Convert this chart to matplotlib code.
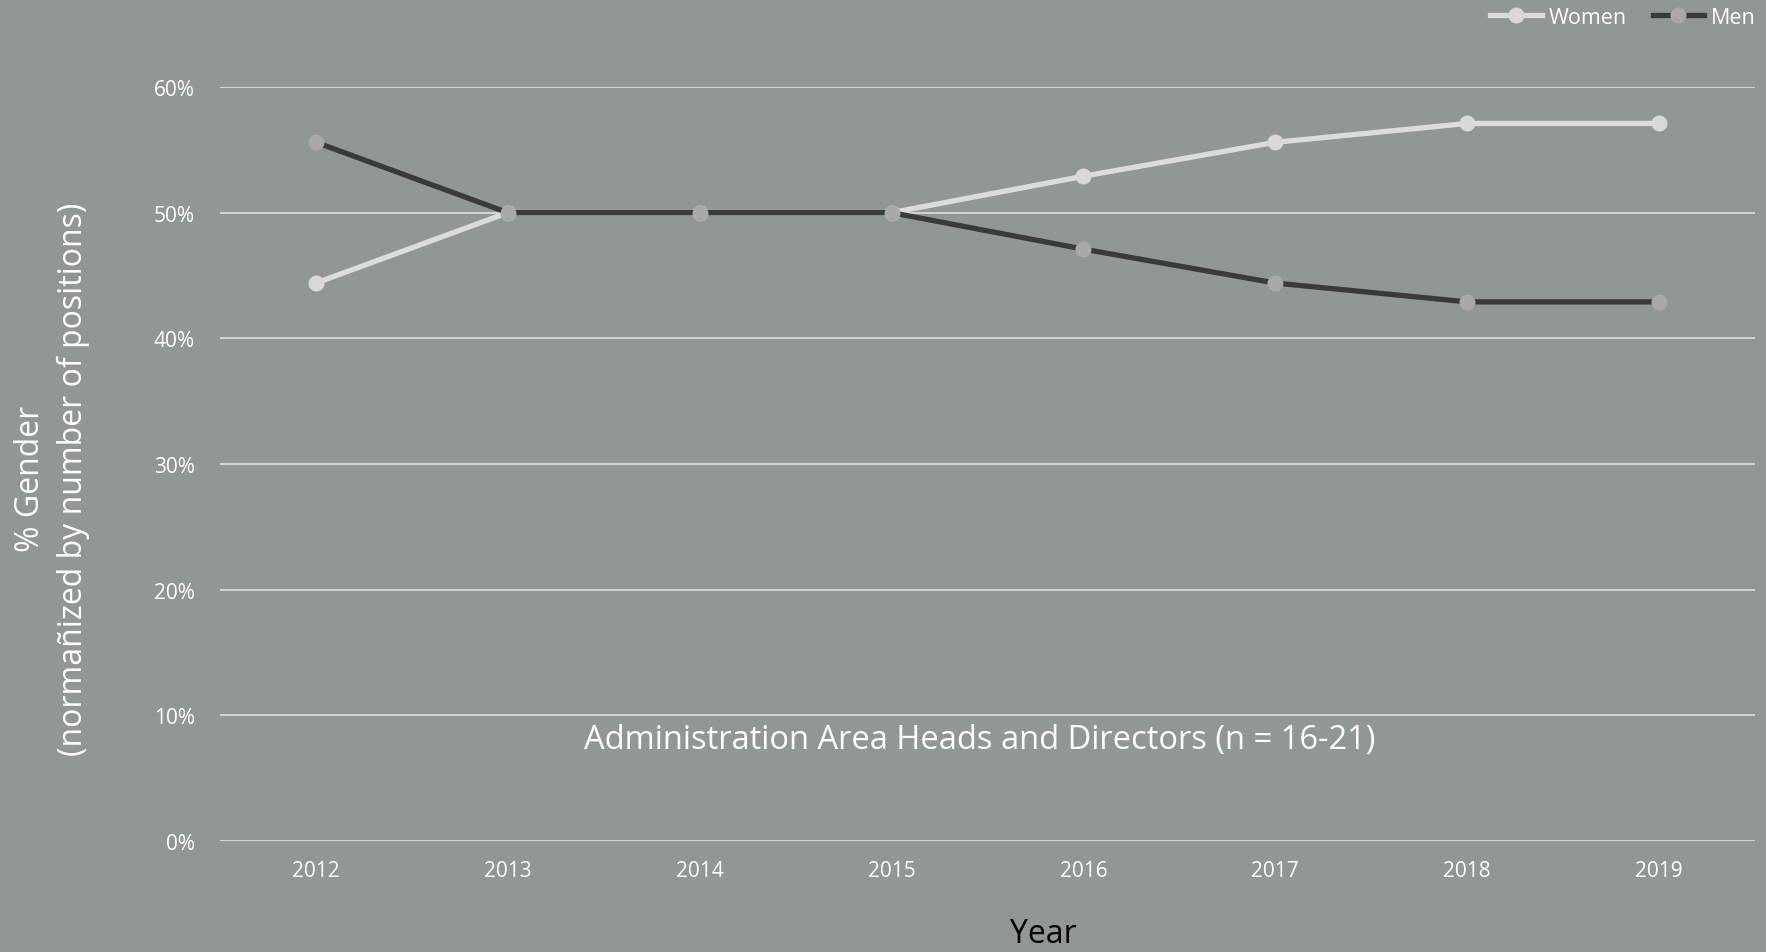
import matplotlib
matplotlib.use('Agg')
import matplotlib.pyplot as plt
from matplotlib.ticker import PercentFormatter

# data
years = ['2012', '2013', '2014', '2015', '2016', '2017', '2018', '2019']
women = [44.4, 50.0, 50.0, 50.0, 52.9, 55.6, 57.1, 57.1]
men = [55.6, 50.0, 50.0, 50.0, 47.1, 44.4, 42.9, 42.9]
yticks = [0, 10, 20, 30, 40, 50, 60]

bg = '#919796'
plt.rcParams['font.family'] = ['Open Sans', 'DejaVu Sans']

fig = plt.figure(figsize=(17.66, 9.53), dpi=100, facecolor=bg)
ax = fig.add_axes([220 / 1766, 111 / 953, 1535 / 1766, 754 / 953])
ax.set_facecolor(bg)

x = list(range(len(years)))
ax.plot(x, women, color='#dcdcdc', lw=3.8, marker='o', ms=10.5,
        mfc='#d9d9d9', mec='#d9d9d9', label='Women', zorder=3)
ax.plot(x, men, color='#3a3a3a', lw=3.8, marker='o', ms=10.5,
        mfc='#a9a9a9', mec='#a9a9a9', label='Men', zorder=3)

ax.set_xlim(-0.5, len(years) - 0.5)
ax.set_ylim(0, 60)
ax.set_xticks(x)
ax.set_xticklabels(years)
ax.set_yticks(yticks)
ax.yaxis.set_major_formatter(PercentFormatter(decimals=0))
ax.grid(axis='y', color='#d9d9d9', lw=1.3)
ax.set_axisbelow(True)
for s in ax.spines.values():
    s.set_visible(False)
ax.tick_params(length=0, colors='white', labelsize=15)
ax.tick_params(axis='x', pad=14)
ax.tick_params(axis='y', pad=18)

fig.text(1043 / 1766, 18 / 953, 'Year', ha='center', va='center', fontsize=23, color='black')
ax.set_ylabel('% Gender\n(normañized by number of positions)', fontsize=23,
              color='white', linespacing=1.4)
ax.yaxis.set_label_coords(-0.0847, 0.481)

ax.text(0.495, 0.135, 'Administration Area Heads and Directors (n = 16-21)',
        transform=ax.transAxes, ha='center', va='center', fontsize=23.5, color='white')

leg = fig.legend(loc='upper right', bbox_to_anchor=(1.005, 1.012), ncol=2, frameon=False,
                 fontsize=15.5, labelcolor='white', handlelength=2.4, columnspacing=1.2,
                 handletextpad=0.3)

fig.savefig('out.png', dpi=100, facecolor=bg)
